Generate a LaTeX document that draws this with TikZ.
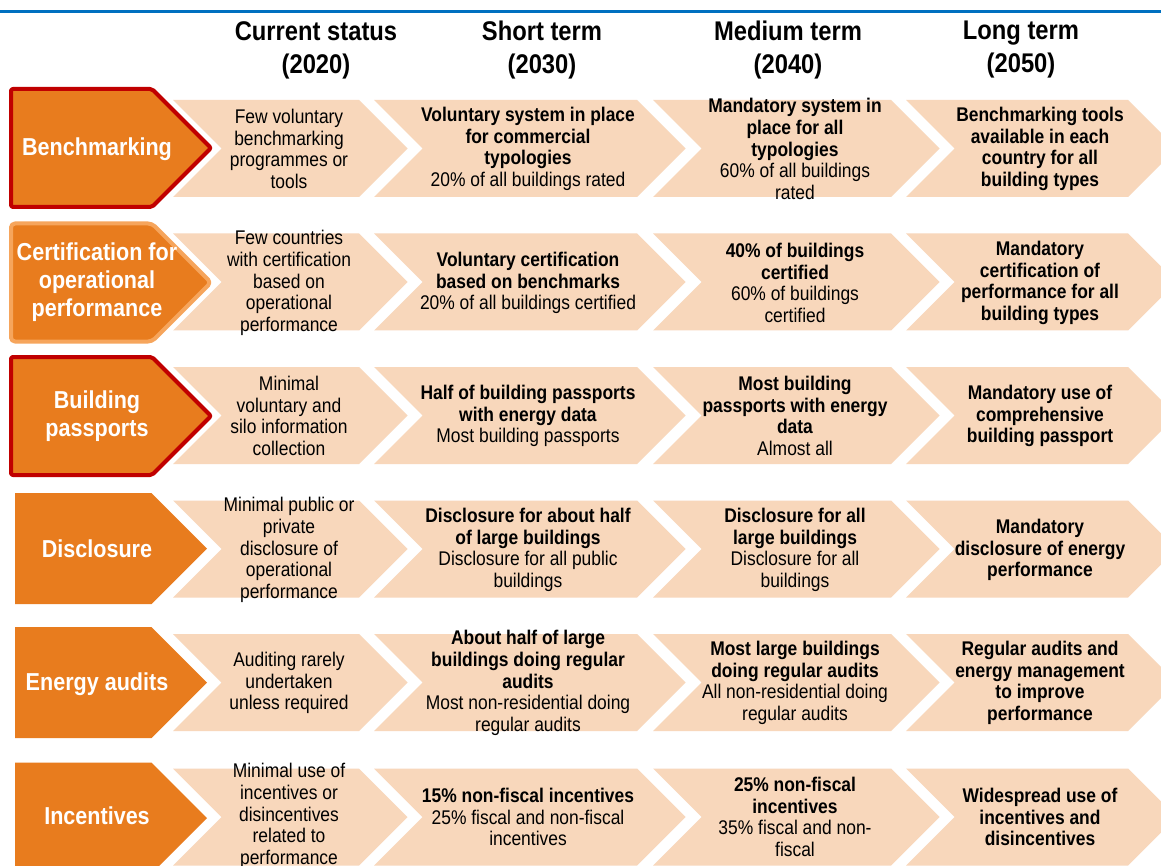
\documentclass[tikz,border=0pt]{standalone}
\usepackage{fontspec}
\setmainfont[FakeStretch=0.88]{Liberation Sans}
\definecolor{peach}{HTML}{F8D7BB}
\definecolor{orng}{HTML}{E87C1E}
\definecolor{redb}{HTML}{C00000}
\definecolor{lorng}{HTML}{F6A55C}
\definecolor{blueline}{HTML}{0070C0}
\tikzset{
  chev/.style={fill=peach, draw=none},
  cell/.style={align=center, font=\fontsize{19.8}{21.6}\selectfont, text=black, inner sep=0pt},
  lbl/.style={align=center, font=\fontsize{24.5}{28}\selectfont\bfseries, text=white, inner sep=0pt},
  hdr/.style={align=center, font=\fontsize{27}{33}\selectfont\bfseries, text=black, inner sep=0pt},
  pentb/.style={fill=orng, line width=4pt, rounded corners=2pt, line join=round},
  pentp/.style={fill=orng, draw=none},
}
\begin{document}
\begin{tikzpicture}[x=1pt,y=-1pt]
\useasboundingbox (0,0) rectangle (1161,866);
\fill[white] (0,0) rectangle (1161,866);
\clip (0,0) rectangle (1161,866);
% blue rule
\fill[blueline] (0,10) rectangle (1161,13.2);
% headers
\node[hdr] (h1) at (316,50) {Current status\\(2020)};
\node[hdr] (h2) at (542,50) {Short term\\(2030)};
\node[hdr] (h3) at (788,50) {Medium term\\(2040)};
\node[hdr] (h4) at (1021,50) {Long term\\(2050)};
% chevrons
\def\hh{48.5}
\foreach \c in {148.5,282,415.5,549,682.5,817}{
  \foreach \L/\R in {173/359,374/637,653/891,906/1128}{
    \fill[chev] (\L,\c-\hh) -- (\R,\c-\hh) -- (\R+\hh,\c) -- (\R,\c+\hh) -- (\L,\c+\hh) -- (\L+\hh,\c) -- cycle;
  }
}
% left pentagons
\draw[pentb, draw=redb] (11,148-59) -- (152,148-59) -- (211,148) -- (152,148+59) -- (11,148+59) -- cycle;
\draw[pentb, draw=lorng, rounded corners=4pt] (11,282.5-59) -- (152,282.5-59) -- (211,282.5) -- (152,282.5+59) -- (11,282.5+59) -- cycle;
\draw[pentb, draw=redb] (11,416-59) -- (152,416-59) -- (211,416) -- (152,416+59) -- (11,416+59) -- cycle;
\foreach \c in {548.5,682.5,818}{
  \fill[pentp] (15,\c-55.5) -- (151.5,\c-55.5) -- (207,\c) -- (151.5,\c+55.5) -- (15,\c+55.5) -- cycle;
}
% labels
\node[lbl] (l1) at (97,149) {Benchmarking};
\node[lbl] (l2) at (97,282) {Certification for\\operational\\performance};
\node[lbl] (l3) at (97,416) {Building\\passports};
\node[lbl] (l4) at (97,549) {Disclosure};
\node[lbl] (l5) at (97,684) {Energy audits};
\node[lbl] (l6) at (97,816) {Incentives};
% row 1
\node[cell] (a1) at (289,149) {Few voluntary\\benchmarking\\programmes or\\tools};
\node[cell] (b1) at (528,149) {\textbf{Voluntary system in place}\\\textbf{for commercial}\\\textbf{typologies}\\20\% of all buildings rated};
\node[cell] (c1) at (795,149) {\textbf{Mandatory system in}\\\textbf{place for all}\\\textbf{typologies}\\60\% of all buildings\\rated};
\node[cell] (d1) at (1040,149) {\textbf{Benchmarking tools}\\\textbf{available in each}\\\textbf{country for all}\\\textbf{building types}};
% row 2
\node[cell] (a2) at (289,283) {Few countries\\with certification\\based on\\operational\\performance};
\node[cell] (b2) at (528,283) {\textbf{Voluntary certification}\\\textbf{based on benchmarks}\\20\% of all buildings certified};
\node[cell] (c2) at (795,283) {\textbf{40\% of buildings}\\\textbf{certified}\\60\% of buildings\\certified};
\node[cell] (d2) at (1040,283) {\textbf{Mandatory}\\\textbf{certification of}\\\textbf{performance for all}\\\textbf{building types}};
% row 3
\node[cell] (a3) at (289,416) {Minimal\\voluntary and\\silo information\\collection};
\node[cell] (b3) at (528,416) {\textbf{Half of building passports}\\\textbf{with energy data}\\Most building passports};
\node[cell] (c3) at (795,416) {\textbf{Most building}\\\textbf{passports with energy}\\\textbf{data}\\Almost all};
\node[cell] (d3) at (1040,416) {\textbf{Mandatory use of}\\\textbf{comprehensive}\\\textbf{building passport}};
% row 4
\node[cell] (a4) at (289,550) {Minimal public or\\private\\disclosure of\\operational\\performance};
\node[cell] (b4) at (528,550) {\textbf{Disclosure for about half}\\\textbf{of large buildings}\\Disclosure for all public\\buildings};
\node[cell] (c4) at (795,550) {\textbf{Disclosure for all}\\\textbf{large buildings}\\Disclosure for all\\buildings};
\node[cell] (d4) at (1040,550) {\textbf{Mandatory}\\\textbf{disclosure of energy}\\\textbf{performance}};
% row 5
\node[cell] (a5) at (289,683) {Auditing rarely\\undertaken\\unless required};
\node[cell] (b5) at (528,683) {\textbf{About half of large}\\\textbf{buildings doing regular}\\\textbf{audits}\\Most non-residential doing\\regular audits};
\node[cell] (c5) at (795,683) {\textbf{Most large buildings}\\\textbf{doing regular audits}\\All non-residential doing\\regular audits};
\node[cell] (d5) at (1040,683) {\textbf{Regular audits and}\\\textbf{energy management}\\\textbf{to improve}\\\textbf{performance}};
% row 6
\node[cell] (a6) at (289,816) {Minimal use of\\incentives or\\disincentives\\related to\\performance};
\node[cell] (b6) at (528,817) {\textbf{15\% non-fiscal incentives}\\25\% fiscal and non-fiscal\\incentives};
\node[cell] (c6) at (795,817) {\textbf{25\% non-fiscal}\\\textbf{incentives}\\35\% fiscal and non-\\fiscal};
\node[cell] (d6) at (1040,817) {\textbf{Widespread use of}\\\textbf{incentives and}\\\textbf{disincentives}};
\end{tikzpicture}
\end{document}
